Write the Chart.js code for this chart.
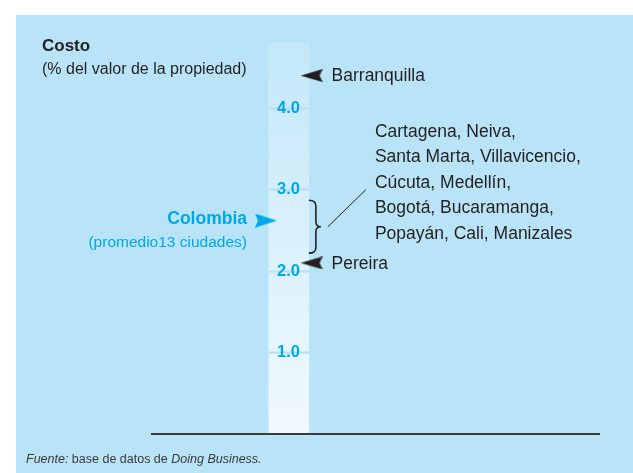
<!DOCTYPE html>
<html lang="es">
<head>
<meta charset="utf-8">
<title>Costo de registrar la propiedad</title>
<script src="https://cdn.jsdelivr.net/npm/chart.js@4.4.1/dist/chart.umd.min.js"></script>
<style>
  html, body { margin: 0; padding: 0; background: #fff; }
  #wrap { width: 633px; height: 473px; }
</style>
</head>
<body>
<div id="wrap"><canvas id="chart" width="633" height="473"></canvas></div>
<script>
// costs, % of property value
const singleCities = ['Barranquilla', 'Pereira'];
const singleCosts = [4.4, 2.1];
const groupLines = [
  'Cartagena, Neiva,',
  'Santa Marta, Villavicencio,',
  'Cúcuta, Medellín,',
  'Bogotá, Bucaramanga,',
  'Popayán, Cali, Manizales'
];
const groupRange = [2.22, 2.87];
const colombiaLabel = 'Colombia';
const colombiaNote = '(promedio13 ciudades)';
const colombiaAvg = 2.62;
const yTicks = [1.0, 2.0, 3.0, 4.0];
const yMax = 4.8;

const BLUE = '#00a8ea';
const INK = '#231f20';
const FONT = "'Liberation Sans', Arial, sans-serif";

// x runs 0..100 across the axis line
const COL_X = 30.6;
const LABEL_X = 33.1;
const COL_RIGHT = 35.1;
const ARROW_X = 35.7;
const AVG_ARROW_X = 25.5;

function arrowHead(color, pointLeft, w, h, notch) {
  const c = document.createElement('canvas');
  c.width = w; c.height = h;
  const g = c.getContext('2d');
  g.fillStyle = color;
  g.beginPath();
  if (pointLeft) {
    g.moveTo(0, h / 2); g.lineTo(w, 0); g.lineTo(w - notch, h / 2); g.lineTo(w, h);
  } else {
    g.moveTo(w, h / 2); g.lineTo(0, 0); g.lineTo(notch, h / 2); g.lineTo(0, h);
  }
  g.closePath();
  g.fill();
  return c;
}

const panel = {
  id: 'panel',
  beforeDraw(chart) {
    const ctx = chart.ctx;
    ctx.save();
    ctx.fillStyle = '#ffffff';
    ctx.fillRect(0, 0, chart.width, chart.height);
    ctx.fillStyle = '#b9e4f8';
    ctx.fillRect(16, 15, chart.width - 16, chart.height - 15);
    ctx.restore();
  }
};

const notes = {
  id: 'notes',
  afterDraw(chart) {
    const ctx = chart.ctx;
    const x = chart.scales.x, y = chart.scales.y;
    ctx.save();
    ctx.textBaseline = 'middle';

    // heading
    ctx.fillStyle = INK;
    ctx.textAlign = 'left';
    ctx.font = 'bold 17px ' + FONT;
    ctx.fillText('Costo', 42, 46);
    ctx.font = '16px ' + FONT;
    ctx.fillText('(% del valor de la propiedad)', 42, 70);

    // single city labels
    ctx.font = '17.5px ' + FONT;
    const labelX = x.getPixelForValue(ARROW_X) + 20;
    singleCities.forEach((name, i) => {
      ctx.fillText(name, labelX, y.getPixelForValue(singleCosts[i]) + 1);
    });

    // brace for the group of cities
    const bx = x.getPixelForValue(COL_RIGHT);
    const top = y.getPixelForValue(groupRange[1]);
    const bot = y.getPixelForValue(groupRange[0]);
    const mid = (top + bot) / 2;
    ctx.strokeStyle = INK;
    ctx.lineWidth = 1.6;
    ctx.beginPath();
    ctx.moveTo(bx, top);
    ctx.quadraticCurveTo(bx + 7, top, bx + 7, top + 6);
    ctx.lineTo(bx + 7, mid - 5);
    ctx.quadraticCurveTo(bx + 7, mid, bx + 12, mid);
    ctx.quadraticCurveTo(bx + 7, mid, bx + 7, mid + 5);
    ctx.lineTo(bx + 7, bot - 6);
    ctx.quadraticCurveTo(bx + 7, bot, bx, bot);
    ctx.stroke();

    // leader line to the list
    ctx.lineWidth = 1;
    ctx.beginPath();
    ctx.moveTo(bx + 19, mid);
    ctx.lineTo(bx + 57, mid - 37);
    ctx.stroke();

    ctx.font = '17.5px ' + FONT;
    groupLines.forEach((line, i) => {
      ctx.fillText(line, bx + 66, mid - 95 + i * 25.5);
    });

    // national average
    const ay = y.getPixelForValue(colombiaAvg);
    const ax = x.getPixelForValue(AVG_ARROW_X) - 19;
    ctx.fillStyle = BLUE;
    ctx.textAlign = 'right';
    ctx.font = 'bold 17.5px ' + FONT;
    ctx.fillText(colombiaLabel, ax, ay - 1);
    ctx.font = '15.5px ' + FONT;
    ctx.fillText(colombiaNote, ax, ay + 22);

    // source
    ctx.textAlign = 'left';
    ctx.fillStyle = '#3a3a3a';
    let fx = 26;
    const parts = [['italic ', 'Fuente:'], ['', ' base de datos de '], ['italic ', 'Doing Business.']];
    parts.forEach(([style, txt]) => {
      ctx.font = style + '12.5px ' + FONT;
      ctx.fillText(txt, fx, 460);
      fx += ctx.measureText(txt).width;
    });
    ctx.restore();
  }
};

new Chart(document.getElementById('chart'), {
  type: 'bar',
  data: {
    datasets: [
      {
        type: 'scatter',
        data: singleCosts.map(v => ({ x: ARROW_X, y: v })),
        pointStyle: arrowHead(INK, true, 22, 13, 3),
        pointRadius: 10,
        order: 0
      },
      {
        type: 'scatter',
        data: [{ x: AVG_ARROW_X, y: colombiaAvg }],
        pointStyle: arrowHead(BLUE, false, 22, 14, 3),
        pointRadius: 10,
        order: 0
      },
      {
        type: 'bar',
        data: [{ x: COL_X, y: yMax }],
        barThickness: 40,
        borderWidth: 0,
        order: 1,
        backgroundColor(ctx) {
          const area = ctx.chart.chartArea;
          if (!area) return '#dcf1fb';
          const g = ctx.chart.ctx.createLinearGradient(0, area.top, 0, area.bottom);
          g.addColorStop(0, '#c3e8f9');
          g.addColorStop(1, '#f0f9fe');
          return g;
        }
      }
    ]
  },
  options: {
    responsive: false,
    animation: false,
    layout: { padding: { left: 152, right: 34, top: 43, bottom: 39 } },
    plugins: {
      legend: { display: false },
      tooltip: { enabled: false }
    },
    scales: {
      x: {
        type: 'linear',
        min: 0,
        max: 100,
        offset: false,
        position: { y: 0 },
        ticks: { display: false },
        grid: { display: false, drawTicks: false },
        border: { display: true, color: '#3b3b3b', width: 2, z: 2 }
      },
      y: {
        type: 'linear',
        min: 0,
        max: yMax,
        position: { x: LABEL_X },
        afterBuildTicks: s => { s.ticks = yTicks.map(v => ({ value: v })); },
        ticks: {
          padding: 0,
          z: 3,
          color: BLUE,
          font: { family: FONT, size: 16.5, weight: 'bold' },
          callback: v => v.toFixed(1)
        },
        grid: { display: false, drawTicks: false },
        border: { display: false }
      },
      yMarks: {
        type: 'linear',
        min: 0,
        max: yMax,
        position: { x: COL_RIGHT },
        afterBuildTicks: s => { s.ticks = yTicks.map(v => ({ value: v })); },
        ticks: { display: false },
        grid: {
          drawOnChartArea: false,
          drawTicks: true,
          tickLength: 40,
          tickWidth: 2,
          tickColor: '#b1dff6',
          z: 1
        },
        border: { display: false }
      }
    }
  },
  plugins: [panel, notes]
});
</script>
</body>
</html>
